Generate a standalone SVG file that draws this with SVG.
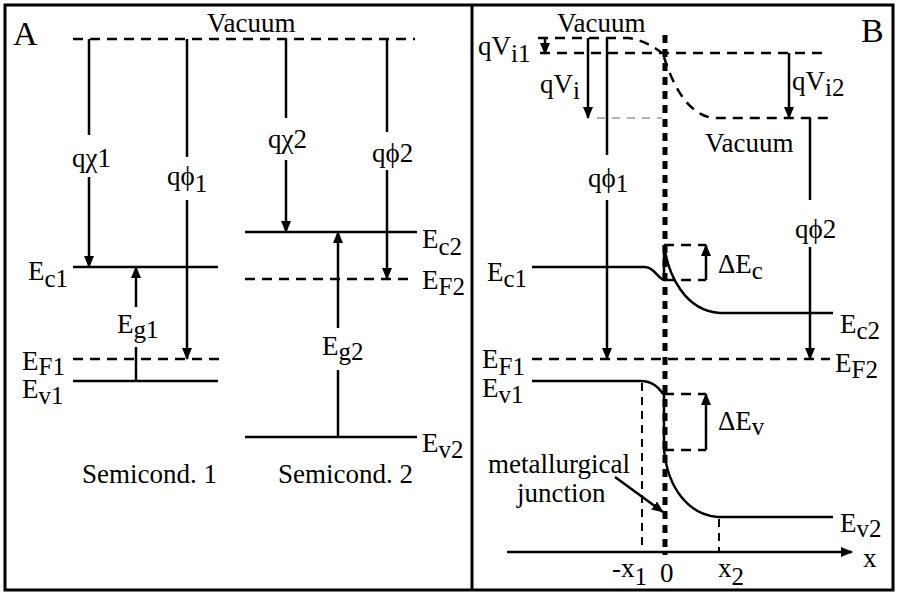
<svg xmlns="http://www.w3.org/2000/svg" width="898" height="592" viewBox="0 0 898 592">
<defs>
<marker id="ah" markerUnits="userSpaceOnUse" markerWidth="12" markerHeight="10" refX="11" refY="5" orient="auto">
<path d="M0,0 L12,5 L0,10 z" fill="#000"/>
</marker>
<style>
text{font-family:"Liberation Serif","Times New Roman",serif;font-size:27px;fill:#000}
.sub{font-size:25px}
.big{font-size:34px}
.ln{stroke:#000;stroke-width:2.5;fill:none}
.ds{stroke:#000;stroke-width:2.5;fill:none;stroke-dasharray:10 7}
.dt{stroke:#000;stroke-width:2;fill:none;stroke-dasharray:8 6}
.ar{stroke:#000;stroke-width:2.5;fill:none;marker-end:url(#ah)}
</style>
</defs>
<rect x="0" y="0" width="898" height="592" fill="#fff"/>
<g id="frame">
<rect x="5" y="5" width="888" height="585" fill="none" stroke="#000" stroke-width="3"/>
<line x1="472" y1="5" x2="472" y2="590" stroke="#000" stroke-width="3"/>
</g>

<g id="panelA">
<g id="levelsA">
<line class="ds" x1="73" y1="39" x2="415" y2="39"/>
<line class="ln" x1="73" y1="267" x2="218" y2="267"/>
<line class="ds" x1="73" y1="359" x2="222" y2="359"/>
<line class="ln" x1="73" y1="381" x2="218" y2="381"/>
<line class="ln" x1="245" y1="232" x2="417" y2="232"/>
<line class="ds" x1="245" y1="279" x2="415" y2="279"/>
<line class="ln" x1="245" y1="437" x2="417" y2="437"/>
</g>
<g id="connectorsA">
<line class="ln" x1="89" y1="39" x2="89" y2="135"/>
<line class="ar" x1="89" y1="177" x2="89" y2="267"/>
<line class="ln" x1="187" y1="39" x2="187" y2="157"/>
<line class="ar" x1="187" y1="200" x2="187" y2="359"/>
<line class="ln" x1="286" y1="39" x2="286" y2="118"/>
<line class="ar" x1="286" y1="160" x2="286" y2="232"/>
<line class="ln" x1="387" y1="39" x2="387" y2="132"/>
<line class="ar" x1="387" y1="170" x2="387" y2="279"/>
<line class="ln" x1="136" y1="381" x2="136" y2="347"/>
<line class="ar" x1="136" y1="307" x2="136" y2="267"/>
<line class="ln" x1="338" y1="437" x2="338" y2="370"/>
<line class="ar" x1="338" y1="328" x2="338" y2="232"/>
</g>
<g id="labelsA">
<text class="big" x="13" y="45">A</text>
<text x="207" y="32">Vacuum</text>
<text x="72" y="167">qχ1</text>
<text x="167" y="185">qϕ<tspan class="sub" y="192">1</tspan></text>
<text x="268" y="148">qχ2</text>
<text x="372" y="162">qϕ2</text>
<text x="28" y="280">E<tspan class="sub" y="287">c1</tspan></text>
<text x="117" y="333">E<tspan class="sub" y="338">g1</tspan></text>
<text x="322" y="355">E<tspan class="sub" y="360">g2</tspan></text>
<text x="22" y="370">E<tspan class="sub" y="375">F1</tspan></text>
<text x="22" y="398">E<tspan class="sub" y="404">v1</tspan></text>
<text x="422" y="248">E<tspan class="sub" y="255">c2</tspan></text>
<text x="422" y="289">E<tspan class="sub" y="295">F2</tspan></text>
<text x="422" y="452">E<tspan class="sub" y="458">v2</tspan></text>
<text x="82" y="483">Semicond. 1</text>
<text x="278" y="483">Semicond. 2</text>
</g>
</g>

<g id="panelB">
<g id="levelsB">
<path class="ds" d="M538,38 L628,38 Q645,40 662,53"/>
<line class="ds" x1="540" y1="53" x2="827" y2="53"/>
<path class="ds" d="M664,57 C672,82 686,114 713,118 L833,118"/>
<line x1="597" y1="118" x2="662" y2="118" stroke="#999" stroke-width="1.3" stroke-dasharray="8 7"/>
<path class="ln" d="M532,267 L645,267 C655,267 658,280 665,280"/>
<path class="ln" d="M664,280 L664,245 C668,275 685,311 720,313 L833,313"/>
<line class="ds" x1="532" y1="359" x2="830" y2="359"/>
<path class="ln" d="M532,381 L640,381 C655,381 660,390 664,395 L664,450 C668,490 690,515 718,517 L833,517"/>
<line class="ds" x1="664" y1="245" x2="706" y2="245"/>
<line class="ds" x1="664" y1="280" x2="706" y2="280"/>
<line class="ds" x1="664" y1="394" x2="706" y2="394"/>
<line class="ds" x1="664" y1="450" x2="706" y2="450"/>
<line class="dt" x1="642" y1="383" x2="642" y2="552"/>
<line class="dt" x1="719" y1="519" x2="719" y2="552"/>
<line x1="665" y1="35" x2="665" y2="555" stroke="#000" stroke-width="5" stroke-dasharray="8 6"/>
</g>
<g id="connectorsB">
<line class="ar" x1="545" y1="39" x2="545" y2="54"/>
<line class="ar" x1="588" y1="38" x2="588" y2="118"/>
<line class="ln" x1="607" y1="38" x2="607" y2="155"/>
<line class="ar" x1="607" y1="200" x2="607" y2="359"/>
<line class="ar" x1="789" y1="53" x2="789" y2="118"/>
<line class="ln" x1="810" y1="118" x2="810" y2="200"/>
<line class="ar" x1="810" y1="247" x2="810" y2="359"/>
<line class="ar" x1="706" y1="280" x2="706" y2="245"/>
<line class="ar" x1="706" y1="450" x2="706" y2="394"/>
<line class="ar" x1="615" y1="477" x2="663" y2="512"/>
<line class="ar" x1="507" y1="552" x2="852" y2="552"/>
</g>
<g id="labelsB">
<text x="557" y="32">Vacuum</text>
<text class="big" x="861" y="42">B</text>
<text x="478" y="55">qV<tspan class="sub" y="62">i1</tspan></text>
<text x="540" y="93">qV<tspan class="sub" y="99">i</tspan></text>
<text x="588" y="187">qϕ<tspan class="sub" y="192">1</tspan></text>
<text x="792" y="90">qV<tspan class="sub" y="96">i2</tspan></text>
<text x="705" y="152">Vacuum</text>
<text x="795" y="238">qϕ2</text>
<text x="487" y="281">E<tspan class="sub" y="287">c1</tspan></text>
<text x="718" y="273">ΔE<tspan class="sub" y="279">c</tspan></text>
<text x="840" y="333">E<tspan class="sub" y="339">c2</tspan></text>
<text x="482" y="368">E<tspan class="sub" y="375">F1</tspan></text>
<text x="835" y="372">E<tspan class="sub" y="378">F2</tspan></text>
<text x="482" y="397">E<tspan class="sub" y="403">v1</tspan></text>
<text x="718" y="430">ΔE<tspan class="sub" y="435">v</tspan></text>
<text x="488" y="473">metallurgical</text>
<text x="517" y="502">junction</text>
<text x="840" y="532">E<tspan class="sub" y="537">v2</tspan></text>
<text x="863" y="567">x</text>
<text x="612" y="577">-x<tspan class="sub" y="585">1</tspan></text>
<text x="660" y="582">0</text>
<text x="718" y="577">x<tspan class="sub" y="585">2</tspan></text>
</g>
</g>
</svg>
